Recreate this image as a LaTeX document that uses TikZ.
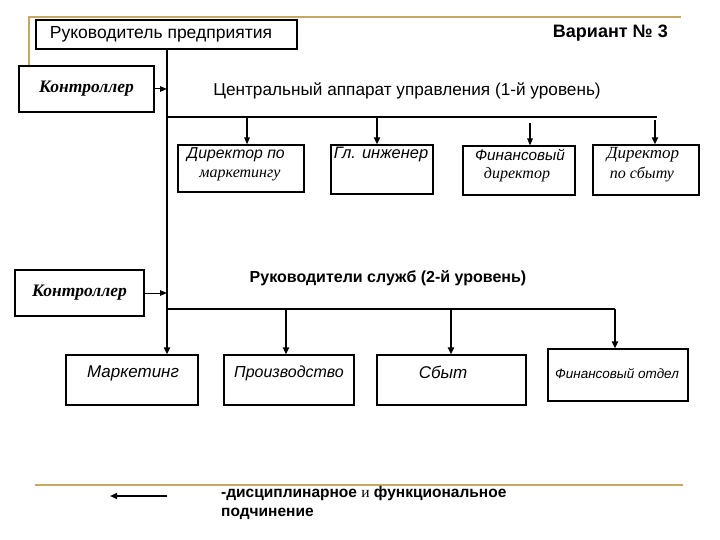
\documentclass[tikz,border=0pt]{standalone}
\usepackage{fontspec}
\setmainfont{Liberation Sans}
\newfontfamily\tnr{Liberation Serif}
\usetikzlibrary{arrows.meta}
\definecolor{gold}{RGB}{198,168,98}
\begin{document}
\begin{tikzpicture}[x=1pt,y=-1pt,
  box/.style={draw,line width=1.1pt,inner sep=0pt,fill=white},
  arr/.style={line width=1.3pt,-{Triangle[length=7pt,width=5.5pt]}},
  arrbold/.style={line width=2pt,-{Triangle[length=7pt,width=6pt]}},
  ln/.style={line width=1.3pt},
  goldln/.style={draw=gold,line width=2.5pt},
  lbl/.style={inner sep=0pt,font=\itshape\fontsize{15.8}{18}\selectfont},
  lblser/.style={inner sep=0pt,font=\tnr\itshape\fontsize{16}{18}\selectfont},
  ctrl/.style={box,font=\tnr\bfseries\itshape\fontsize{17.5}{19}\selectfont}]
\useasboundingbox (0,0) rectangle (720,540);
% gold frame lines
\draw[goldln] (29,66) -- (29,17) -- (681,17);
\draw[goldln] (35,485) -- (683,485);
% top
\node[box,minimum width=261,minimum height=29] (boss) at (166.5,34.5) {};
\node[inner sep=0pt,font=\fontsize{17.5}{19}\selectfont] (bosst) at (161,34) {Руководитель предприятия};
\node[anchor=east,inner sep=0pt,font=\bfseries\fontsize{18}{20}\selectfont] (var) at (668,33) {Вариант № 3};
% controllers
\node[ctrl,minimum width=135,minimum height=46] (c1) at (86.5,89) {Контроллер};
\node[ctrl,minimum width=129,minimum height=46] (c2) at (79.5,293) {Контроллер};
% titles
\node[inner sep=0pt,font=\fontsize{17.2}{19}\selectfont] (lvl1) at (407,91) {Центральный аппарат управления (1-й уровень)};
\node[inner sep=0pt,font=\bfseries\fontsize{16}{18}\selectfont] (lvl2) at (388,278) {Руководители служб (2-й уровень)};
% level 1 boxes
\node[box,minimum width=126,minimum height=47] (b1) at (241,168.5) {};
\node[box,minimum width=102,minimum height=49] (b2) at (382,169.5) {};
\node[box,minimum width=112,minimum height=49] (b3) at (519,170.5) {};
\node[box,minimum width=106,minimum height=50] (b4) at (646,170) {};
\node[lbl] (b1a) at (236,155) {Директор по};
\node[lblser] (b1b) at (240,175) {маркетингу};
\node[lbl,font=\itshape\fontsize{16.5}{18}\selectfont] (b2a) at (381,155) {Гл. инженер};
\node[lbl,font=\itshape\fontsize{15.3}{18}\selectfont] (b3a) at (520,155) {Финансовый};
\node[lblser] (b3b) at (517,175) {директор};
\node[lblser,font=\tnr\itshape\fontsize{17}{19}\selectfont] (b4a) at (643,155) {Директор};
\node[lblser] (b4b) at (642,175) {по сбыту};
% level 2 boxes
\node[box,minimum width=132,minimum height=50] (m1) at (132,380) {};
\node[box,minimum width=130,minimum height=50] (m2) at (289,380) {};
\node[box,minimum width=149,minimum height=50] (m3) at (451.5,380) {};
\node[box,minimum width=140,minimum height=52] (m4) at (618,375) {};
\node[lbl,font=\itshape\fontsize{17}{19}\selectfont] (m1t) at (133,373) {Маркетинг};
\node[lbl,font=\itshape\fontsize{16}{18}\selectfont] (m2t) at (289,373) {Производство};
\node[lbl,font=\itshape\fontsize{17}{19}\selectfont] (m3t) at (443,372) {Сбыт};
\node[lbl,font=\itshape\fontsize{13.5}{16}\selectfont] (m4t) at (617,374) {Финансовый отдел};
% main vertical line
\coordinate (top) at (167,49);
\draw[arrbold] (top) -- (top |- m1.north);
% controller arrows
\draw[arr,line width=1pt] (c1.east) -- (c1.east -| top);
\draw[arr,line width=1pt] (c2.east) -- (c2.east -| top);
% level 1 bus
\coordinate (h1s) at (167,117);
\coordinate (h1e) at (657,117);
\draw[ln] (h1s) -- (h1e);
\coordinate (t1) at (247,117);
\coordinate (t2) at (377,117);
\coordinate (t3) at (530,123);
\coordinate (t4) at (655,120);
\draw[arr] (t1) -- (t1 |- b1.north);
\draw[arrbold] (t2) -- (t2 |- b2.north);
\draw[arr] (t3) -- (t3 |- b3.north);
\draw[arrbold] (t4) -- (t4 |- b4.north);
% level 2 bus
\coordinate (h2s) at (167,309);
\coordinate (s2) at (286,309);
\coordinate (s3) at (451,309);
\coordinate (s4) at (615,309);
\draw[ln] (h2s) -- (s4);
\draw[arrbold] (s2) -- (s2 |- m2.north);
\draw[arrbold] (s3) -- (s3 |- m3.north);
\draw[arrbold] (s4) -- (s4 |- m4.north);
% legend
\coordinate (lg1) at (167,496);
\coordinate (lg2) at (110,496);
\draw[arrbold] (lg1) -- (lg2);
\node[anchor=north west,align=left,inner sep=0pt,font=\bfseries\fontsize{15.5}{19}\selectfont] (legend) at (221,486) {-дисциплинарное {\tnr\mdseries и} функциональное\\подчинение};
\end{tikzpicture}
\end{document}
